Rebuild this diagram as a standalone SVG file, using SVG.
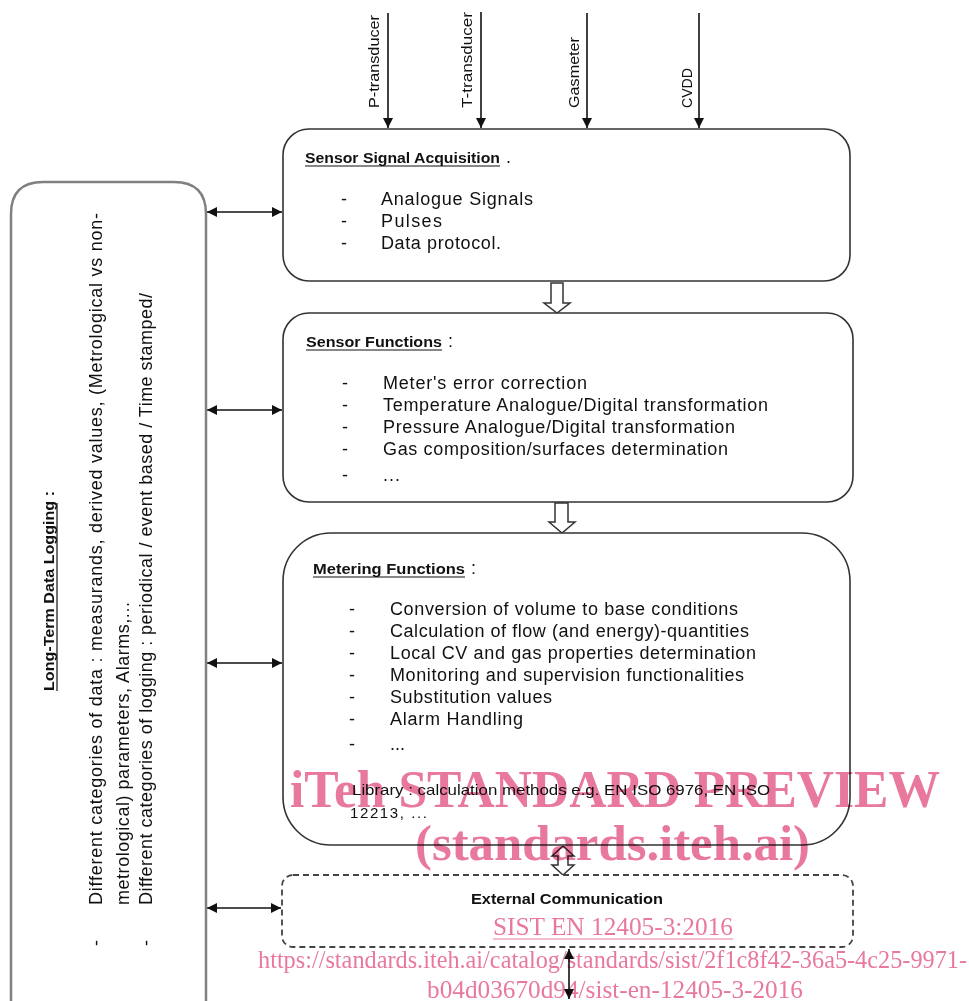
<svg xmlns="http://www.w3.org/2000/svg" width="969" height="1001" viewBox="0 0 969 1001">
<defs>
<style>
.box{fill:#fff;stroke:#333;stroke-width:1.6}
.lbox{fill:#fff;stroke:#808080;stroke-width:2.5}
.dbox{fill:#fff;stroke:#444;stroke-width:1.8;stroke-dasharray:6 4}
.hol{fill:#fff;stroke:#333;stroke-width:1.5}
.ln{stroke:#111;stroke-width:1.6;fill:none}
.t{font-family:"Liberation Sans",Arial,sans-serif;font-size:18px;fill:#111}
.h{font-family:"Liberation Sans Narrow","Liberation Sans",Arial,sans-serif;font-size:15px;font-weight:bold;fill:#111}
.lb{font-family:"Liberation Sans",Arial,sans-serif;font-size:14px;fill:#111}
.lib{font-family:"Liberation Sans",Arial,sans-serif;font-size:15px;fill:#111}
.ul{stroke:#111;stroke-width:1.2}
.wm{font-family:"Liberation Serif","Times New Roman",serif;fill:#e8799d}
#watermark{mix-blend-mode:multiply}
</style>
<marker id="ah" viewBox="0 0 10 10" refX="10" refY="5" markerWidth="11" markerHeight="10" markerUnits="userSpaceOnUse" orient="auto-start-reverse">
<path d="M0,0 L10,5 L0,10 z" fill="#111"/>
</marker>
</defs>

<g id="connectors">
<line class="ln" x1="388" y1="13" x2="388" y2="128" marker-end="url(#ah)"/>
<line class="ln" x1="481" y1="12" x2="481" y2="128" marker-end="url(#ah)"/>
<line class="ln" x1="587" y1="13" x2="587" y2="128" marker-end="url(#ah)"/>
<line class="ln" x1="699" y1="13" x2="699" y2="128" marker-end="url(#ah)"/>
<line class="ln" x1="207" y1="212" x2="282" y2="212" marker-start="url(#ah)" marker-end="url(#ah)"/>
<line class="ln" x1="207" y1="410" x2="282" y2="410" marker-start="url(#ah)" marker-end="url(#ah)"/>
<line class="ln" x1="207" y1="663" x2="282" y2="663" marker-start="url(#ah)" marker-end="url(#ah)"/>
<line class="ln" x1="207" y1="908" x2="281" y2="908" marker-start="url(#ah)" marker-end="url(#ah)"/>
<polygon class="hol" points="551,283 563,283 563,303 570,303 557,313 544,303 551,303"/>
<polygon class="hol" points="555,503 568,503 568,522 575,522 562,533 549,522 555,522"/>
<polygon class="hol" points="558,856 552,856 563,846 574,856 568,856 568,865 574,865 563,875 552,865 558,865"/>
<line class="ln" x1="569" y1="949" x2="569" y2="999" marker-start="url(#ah)" marker-end="url(#ah)"/>
</g>

<g id="inputs">
<text class="lb" transform="translate(379,108) rotate(-90)" textLength="93" lengthAdjust="spacingAndGlyphs">P-transducer</text>
<text class="lb" transform="translate(472,108) rotate(-90)" textLength="96" lengthAdjust="spacingAndGlyphs">T-transducer</text>
<text class="lb" transform="translate(579,108) rotate(-90)" textLength="71" lengthAdjust="spacingAndGlyphs">Gasmeter</text>
<text class="lb" transform="translate(692,108) rotate(-90)" textLength="40" lengthAdjust="spacingAndGlyphs">CVDD</text>
</g>

<g id="logging">
<path class="lbox" d="M11,1010 V214 Q11,182 43,182 H174 Q206,182 206,214 V1010"/>
<text class="h" transform="translate(54,691) rotate(-90)" textLength="200" lengthAdjust="spacingAndGlyphs">Long-Term Data Logging :</text>
<line class="ul" x1="57" y1="691" x2="57" y2="503"/>
<text class="t" transform="translate(102,946) rotate(-90)">-</text>
<text class="t" transform="translate(102,905) rotate(-90)" textLength="692" lengthAdjust="spacing">Different  categories  of data : measurands, derived values, (Metrological vs non-</text>
<text class="t" transform="translate(129,905) rotate(-90)" textLength="303" lengthAdjust="spacing">metrological) parameters, Alarms,...</text>
<text class="t" transform="translate(152,946) rotate(-90)">-</text>
<text class="t" transform="translate(152,905) rotate(-90)" textLength="612" lengthAdjust="spacing">Different categories of logging : periodical / event based / Time stamped/</text>
</g>

<g id="acquisition">
<rect class="box" x="283" y="129" width="567" height="152" rx="26"/>
<text class="h" x="305" y="163" textLength="195" lengthAdjust="spacingAndGlyphs">Sensor Signal Acquisition</text>
<line class="ul" x1="305" y1="166" x2="500" y2="166"/>
<text class="t" x="506" y="163">.</text>
<text class="t" x="341" y="205">-</text><text class="t" x="381" y="205" textLength="152" lengthAdjust="spacing">Analogue Signals</text>
<text class="t" x="341" y="227">-</text><text class="t" x="381" y="227" textLength="61" lengthAdjust="spacing">Pulses</text>
<text class="t" x="341" y="249">-</text><text class="t" x="381" y="249" textLength="120" lengthAdjust="spacing">Data protocol.</text>
</g>

<g id="sensor-functions">
<rect class="box" x="283" y="313" width="570" height="189" rx="26"/>
<text class="h" x="306" y="347" textLength="136" lengthAdjust="spacingAndGlyphs">Sensor  Functions</text>
<line class="ul" x1="306" y1="350" x2="442" y2="350"/>
<text class="t" x="448" y="347">:</text>
<text class="t" x="342" y="389">-</text><text class="t" x="383" y="389" textLength="204" lengthAdjust="spacing">Meter's  error correction</text>
<text class="t" x="342" y="411">-</text><text class="t" x="383" y="411" textLength="385" lengthAdjust="spacing">Temperature Analogue/Digital transformation</text>
<text class="t" x="342" y="433">-</text><text class="t" x="383" y="433" textLength="352" lengthAdjust="spacing">Pressure Analogue/Digital transformation</text>
<text class="t" x="342" y="455">-</text><text class="t" x="383" y="455" textLength="345" lengthAdjust="spacing">Gas composition/surfaces determination</text>
<text class="t" x="342" y="481">-</text><text class="t" x="383" y="481" textLength="17" lengthAdjust="spacing">...</text>
</g>

<g id="metering-functions">
<rect class="box" x="283" y="533" width="567" height="312" rx="48"/>
<text class="h" x="313" y="574" textLength="152" lengthAdjust="spacingAndGlyphs">Metering Functions</text>
<line class="ul" x1="313" y1="577" x2="465" y2="577"/>
<text class="t" x="471" y="574">:</text>
<text class="t" x="349" y="615">-</text><text class="t" x="390" y="615" textLength="348" lengthAdjust="spacing">Conversion of volume to  base conditions</text>
<text class="t" x="349" y="637">-</text><text class="t" x="390" y="637" textLength="359" lengthAdjust="spacing">Calculation of flow (and energy)-quantities</text>
<text class="t" x="349" y="659">-</text><text class="t" x="390" y="659" textLength="366" lengthAdjust="spacing">Local CV  and gas properties determination</text>
<text class="t" x="349" y="681">-</text><text class="t" x="390" y="681" textLength="354" lengthAdjust="spacing">Monitoring and supervision functionalities</text>
<text class="t" x="349" y="703">-</text><text class="t" x="390" y="703" textLength="162" lengthAdjust="spacing">Substitution values</text>
<text class="t" x="349" y="725">-</text><text class="t" x="390" y="725" textLength="133" lengthAdjust="spacing">Alarm Handling</text>
<text class="t" x="349" y="750">-</text><text class="t" x="390" y="750" textLength="15" lengthAdjust="spacing">...</text>
<text class="lib" x="352" y="795" textLength="418" lengthAdjust="spacingAndGlyphs">Library : calculation methods e.g. EN ISO 6976, EN ISO</text>
<text class="lib" x="350" y="818" textLength="77" lengthAdjust="spacing">12213,  ...</text>
</g>

<g id="external-communication">
<rect class="dbox" x="282" y="875" width="571" height="72" rx="11"/>
<text class="h" x="471" y="904" textLength="192" lengthAdjust="spacingAndGlyphs">External Communication</text>
</g>

<g id="watermark">
<text class="wm" x="290" y="807" font-size="52" font-weight="bold" textLength="650" lengthAdjust="spacingAndGlyphs">iTeh STANDARD PREVIEW</text>
<text class="wm" x="415" y="860" font-size="50" font-weight="bold" textLength="395" lengthAdjust="spacingAndGlyphs">(standards.iteh.ai)</text>
<text class="wm" x="493" y="935" font-size="25" textLength="240" lengthAdjust="spacingAndGlyphs">SIST EN 12405-3:2016</text>
<line x1="493" y1="939" x2="733" y2="939" stroke="#e8799d" stroke-width="1.2"/>
<text class="wm" x="258" y="968" font-size="25" textLength="709" lengthAdjust="spacingAndGlyphs">https://standards.iteh.ai/catalog/standards/sist/2f1c8f42-36a5-4c25-9971-</text>
<text class="wm" x="427" y="998" font-size="25" textLength="376" lengthAdjust="spacingAndGlyphs">b04d03670d94/sist-en-12405-3-2016</text>
</g>
</svg>
